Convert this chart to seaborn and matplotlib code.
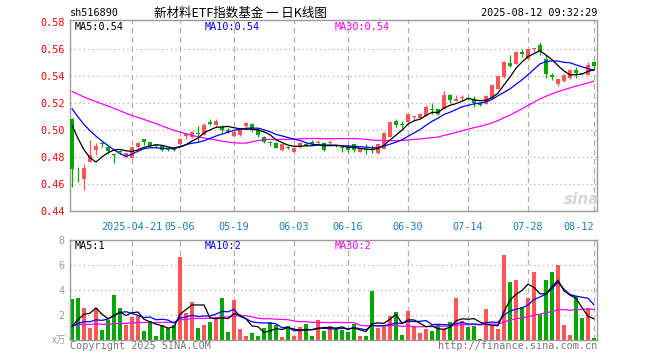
import numpy as np
import pandas as pd
import matplotlib
matplotlib.use("Agg")
import matplotlib.pyplot as plt
import seaborn as sns

# ---------------- data ----------------
dates = ["04-07", "04-08", "04-09", "04-10", "04-11", "04-14", "04-15", "04-16", "04-17", "04-18",
         "04-21", "04-22", "04-23", "04-24", "04-25", "04-28", "04-29", "04-30",
         "05-06", "05-07", "05-08", "05-09", "05-12", "05-13", "05-14", "05-15", "05-16",
         "05-19", "05-20", "05-21", "05-22", "05-23", "05-26", "05-27", "05-28", "05-29", "05-30",
         "06-03", "06-04", "06-05", "06-06", "06-09", "06-10", "06-11", "06-12", "06-13",
         "06-16", "06-17", "06-18", "06-19", "06-20", "06-23", "06-24", "06-25", "06-26", "06-27",
         "06-30", "07-01", "07-02", "07-03", "07-04", "07-07", "07-08", "07-09", "07-10", "07-11",
         "07-14", "07-15", "07-16", "07-17", "07-18", "07-21", "07-22", "07-23", "07-24", "07-25",
         "07-28", "07-29", "07-30", "07-31", "08-01", "08-04", "08-05", "08-06", "08-07", "08-08",
         "08-11", "08-12"]

opens = [0.5085, 0.4700, 0.4635, 0.4767, 0.4853, 0.4907, 0.4872, 0.4821, 0.4842, 0.4804,
         0.4796, 0.4872, 0.4934, 0.4909, 0.4890, 0.4882, 0.4855, 0.4867, 0.4894, 0.4953,
         0.4948, 0.4980, 0.4963, 0.5061, 0.5036, 0.5024, 0.5000, 0.4958, 0.4963, 0.5032,
         0.5044, 0.5000, 0.4946, 0.4914, 0.4902, 0.4853, 0.4875, 0.4840, 0.4872, 0.4894,
         0.4914, 0.4905, 0.4902, 0.4905, 0.4885, 0.4873, 0.4877, 0.4894, 0.4840, 0.4858,
         0.4855, 0.4828, 0.4860, 0.4951, 0.5066, 0.5037, 0.5061, 0.5095, 0.5090, 0.5105,
         0.5153, 0.5152, 0.5154, 0.5257, 0.5218, 0.5236, 0.5228, 0.5223, 0.5203, 0.5196,
         0.5235, 0.5306, 0.5389, 0.5497, 0.5490, 0.5580, 0.5527, 0.5600, 0.5629, 0.5527,
         0.5409, 0.5343, 0.5360, 0.5384, 0.5446, 0.5417, 0.5409, 0.5502]
highs = [0.5090, 0.4730, 0.4750, 0.4926, 0.4907, 0.4919, 0.4875, 0.4823, 0.4850, 0.4831,
         0.4877, 0.4914, 0.4934, 0.4914, 0.4899, 0.4882, 0.4870, 0.4870, 0.4943, 0.4987,
         0.4995, 0.5032, 0.5049, 0.5085, 0.5085, 0.5041, 0.5012, 0.4997, 0.5017, 0.5061,
         0.5051, 0.5012, 0.4956, 0.4919, 0.4914, 0.4897, 0.4885, 0.4877, 0.4909, 0.4902,
         0.4926, 0.4924, 0.4914, 0.4924, 0.4890, 0.4882, 0.4890, 0.4894, 0.4870, 0.4894,
         0.4887, 0.4894, 0.4988, 0.5061, 0.5085, 0.5066, 0.5117, 0.5107, 0.5127, 0.5184,
         0.5200, 0.5154, 0.5286, 0.5267, 0.5257, 0.5257, 0.5237, 0.5250, 0.5203, 0.5257,
         0.5343, 0.5404, 0.5507, 0.5551, 0.5585, 0.5600, 0.5600, 0.5607, 0.5654, 0.5551,
         0.5424, 0.5380, 0.5414, 0.5448, 0.5465, 0.5424, 0.5502, 0.5509]
lows = [0.4576, 0.4620, 0.4554, 0.4767, 0.4816, 0.4878, 0.4821, 0.4760, 0.4820, 0.4797,
        0.4790, 0.4870, 0.4890, 0.4880, 0.4870, 0.4848, 0.4846, 0.4846, 0.4889, 0.4934,
        0.4940, 0.4909, 0.4963, 0.5036, 0.5024, 0.4988, 0.4975, 0.4948, 0.4958, 0.5024,
        0.4988, 0.4951, 0.4902, 0.4885, 0.4865, 0.4846, 0.4860, 0.4835, 0.4865, 0.4880,
        0.4890, 0.4890, 0.4846, 0.4890, 0.4875, 0.4841, 0.4841, 0.4841, 0.4835, 0.4820,
        0.4831, 0.4821, 0.4860, 0.4951, 0.5024, 0.5012, 0.5056, 0.5066, 0.5085, 0.5102,
        0.5122, 0.5110, 0.5152, 0.5198, 0.5213, 0.5218, 0.5223, 0.5171, 0.5179, 0.5189,
        0.5230, 0.5301, 0.5384, 0.5466, 0.5485, 0.5539, 0.5522, 0.5575, 0.5556, 0.5384,
        0.5367, 0.5326, 0.5355, 0.5380, 0.5384, 0.5416, 0.5404, 0.5453]
closes = [0.4710, 0.4694, 0.4718, 0.4816, 0.4882, 0.4900, 0.4848, 0.4818, 0.4838, 0.4831,
          0.4877, 0.4907, 0.4909, 0.4885, 0.4882, 0.4853, 0.4853, 0.4850, 0.4933, 0.4970,
          0.4987, 0.4968, 0.5036, 0.5044, 0.5066, 0.5000, 0.4988, 0.4988, 0.5007, 0.5049,
          0.5000, 0.4963, 0.4914, 0.4902, 0.4865, 0.4894, 0.4870, 0.4870, 0.4902, 0.4885,
          0.4894, 0.4907, 0.4853, 0.4907, 0.4880, 0.4871, 0.4853, 0.4853, 0.4867, 0.4855,
          0.4852, 0.4894, 0.4975, 0.5056, 0.5036, 0.5035, 0.5117, 0.5098, 0.5117, 0.5171,
          0.5150, 0.5117, 0.5257, 0.5220, 0.5233, 0.5237, 0.5226, 0.5203, 0.5184, 0.5250,
          0.5335, 0.5397, 0.5502, 0.5473, 0.5580, 0.5561, 0.5600, 0.5607, 0.5585, 0.5416,
          0.5392, 0.5380, 0.5409, 0.5441, 0.5424, 0.5415, 0.5478, 0.5470]
volumes = [3.32, 3.40, 2.59, 0.97, 2.59, 0.81, 1.62, 3.64, 2.59, 1.21,
           1.86, 1.94, 0.73, 1.54, 0.32, 1.21, 0.97, 1.21, 6.63, 2.18,
           3.07, 0.97, 1.21, 1.46, 1.86, 3.40, 0.65, 3.23, 0.89, 0.32,
           0.57, 0.32, 0.97, 1.46, 1.21, 0.24, 1.13, 0.32, 1.05, 1.29,
           0.32, 1.62, 0.73, 1.10, 1.00, 0.81, 0.65, 1.29, 0.32, 0.32,
           3.96, 0.97, 1.13, 1.94, 2.26, 0.40, 2.34, 1.13, 0.57, 0.89,
           0.73, 1.21, 0.89, 1.46, 3.40, 1.54, 1.05, 1.13, 0.08, 2.51,
           1.13, 0.89, 6.79, 4.69, 4.85, 2.67, 3.40, 5.50, 2.10, 4.85,
           5.50, 6.06, 1.21, 0.40, 3.56, 1.78, 2.59, 0.16]

# closes / volumes of the sessions before the window (estimated from the MA lines' start)
prior_closes = [0.532, 0.534, 0.537, 0.536, 0.538, 0.535, 0.533, 0.536, 0.539, 0.537,
                0.535, 0.534, 0.536, 0.533, 0.535, 0.537, 0.534, 0.532, 0.535, 0.532,
                0.530, 0.528, 0.527, 0.529, 0.526, 0.518, 0.514, 0.511, 0.504]
prior_volumes = [1.9, 2.0, 1.9, 1.95, 0.9, 0.8, 1.0, 0.9, 0.85, 0.95,
                 0.9, 0.8, 1.0, 0.9, 0.95, 0.85, 1.0, 1.1, 1.0, 1.05,
                 1.25, 0.6, 0.5, 0.5, 0.48]

tick_dates = ["2025-04-21", "05-06", "05-19", "06-03", "06-16", "06-30", "07-14", "07-28", "08-12"]
tick_keys = ["04-21", "05-06", "05-19", "06-03", "06-16", "06-30", "07-14", "07-28", "08-12"]
price_ticks = [0.44, 0.46, 0.48, 0.50, 0.52, 0.54, 0.56, 0.58]
vol_ticks = [2, 4, 6, 8]

# ---------------- style ----------------
sns.set_style("white")
plt.rcParams['font.family'] = ['DejaVu Sans Mono', 'Noto Sans CJK SC']
RED = "#ff5555"
GREEN = "#00a800"
GRID = "#b0b0b0"
FRAME = "#9a9a9a"

df = pd.DataFrame({"date": dates, "open": opens, "high": highs, "low": lows,
                   "close": closes, "vol": volumes})
df["x"] = np.arange(len(df))
n = len(df)
allc = pd.Series(prior_closes + closes)
allv = pd.Series(prior_volumes + volumes)
for w in (5, 10, 30):
    df[f"ma{w}"] = allc.rolling(w).mean().iloc[-n:].values
    df[f"vma{w}"] = allv.rolling(w, min_periods=1).mean().iloc[-n:].values
up = df["close"] >= df["open"]
cols = np.where(up, RED, GREEN)

W, H = 660, 360
fig = plt.figure(figsize=(W / 100, H / 100), dpi=100)


def rect(l, t, r, b):
    return [l / W, 1 - b / H, (r - l) / W, (b - t) / H]


ax = fig.add_axes(rect(70, 20, 597, 211.3))
axv = fig.add_axes(rect(70, 240, 597, 340))

tick_idx = [dates.index(k) for k in tick_keys]

for a in (ax, axv):
    a.set_xlim(-0.33, 87.5)
    for s in a.spines.values():
        s.set_color(FRAME)
        s.set_linewidth(1.0)
    for t in tick_idx:
        a.axvline(t, color=GRID, lw=0.9, ls=(0, (4.5, 3)), zorder=0)

# ---- price panel ----
ax.set_ylim(0.44, 0.5813)
for p in price_ticks[1:-1]:
    ax.axhline(p, color=GRID, lw=0.9, ls=(0, (1, 2.5)), zorder=0)
ax.vlines(df["x"], df["low"], df["high"], colors=cols, lw=0.9, zorder=2)
body_h = np.maximum((df["close"] - df["open"]).abs(), 0.0007)
body_b = np.minimum(df["close"], df["open"])
ax.bar(df["x"], body_h, bottom=body_b, width=0.78, color=cols, lw=0, zorder=3)
sns.lineplot(data=df, x="x", y="ma30", ax=ax, color="#ff00ff", lw=0.9, zorder=4)
sns.lineplot(data=df, x="x", y="ma10", ax=ax, color="#0000ff", lw=0.9, zorder=5)
sns.lineplot(data=df, x="x", y="ma5", ax=ax, color="black", lw=0.9, zorder=6)
ax.set_yticks(price_ticks)
ax.set_yticklabels([f"{p:.2f}" for p in price_ticks], color="red", fontsize=7.3)
ax.set_xticks(tick_idx)
ax.set_xticklabels(tick_dates, color="#1a7ccc", fontsize=7.3)
xt = ax.get_xticklabels()
xt[-1].set_horizontalalignment("right")
ax.tick_params(axis="both", length=0)
ax.tick_params(axis="y", pad=4)
ax.tick_params(axis="x", pad=8)
ax.set_xlabel("")
ax.set_ylabel("")
ax.set_xlim(-0.33, 87.5)

# ---- volume panel ----
axv.set_ylim(0, 8.03)
for v in vol_ticks[:-1]:
    axv.axhline(v, color=GRID, lw=0.9, ls=(0, (1, 2.5)), zorder=0)
axv.bar(df["x"], df["vol"], width=0.78, color=cols, lw=0, zorder=2)
sns.lineplot(data=df, x="x", y="vma30", ax=axv, color="#ff00ff", lw=0.9, zorder=4)
sns.lineplot(data=df, x="x", y="vma10", ax=axv, color="#0000ff", lw=0.9, zorder=5)
sns.lineplot(data=df, x="x", y="vma5", ax=axv, color="black", lw=0.9, zorder=6)
axv.set_yticks(vol_ticks)
axv.set_yticklabels([str(v) for v in vol_ticks], color="#9a9a9a", fontsize=7.3)
axv.set_xticks([])
axv.tick_params(axis="both", length=0)
axv.tick_params(axis="y", pad=4)
axv.set_xlabel("")
axv.set_ylabel("")
axv.set_xlim(-0.33, 87.5)


def ftext(x, y, s, **kw):
    fig.text(x / W, 1 - y / H, s, **kw)


mono = dict(fontsize=7.3)
ftext(70, 13, "sh516890", ha="left", va="center", color="black", **mono)
ftext(240, 13, "新材料ETF指数基金 一 日K线图", ha="center", va="center", color="black",
      fontsize=9, family=["Noto Sans CJK SC", "DejaVu Sans"])
ftext(597, 13, "2025-08-12 09:32:29", ha="right", va="center", color="black", **mono)

ftext(75, 26.5, "MA5:0.54", ha="left", va="center", color="black", **mono)
ftext(205, 26.5, "MA10:0.54", ha="left", va="center", color="#0000ff", **mono)
ftext(335, 26.5, "MA30:0.54", ha="left", va="center", color="#ff00ff", **mono)

ftext(75, 246, "MA5:1", ha="left", va="center", color="black", **mono)
ftext(205, 246, "MA10:2", ha="left", va="center", color="#0000ff", **mono)
ftext(335, 246, "MA30:2", ha="left", va="center", color="#ff00ff", **mono)

ftext(66, 340, "x万", ha="right", va="center", color="#a0a0a0", fontsize=7,
      family=["Noto Sans CJK SC", "DejaVu Sans"])
ftext(70, 346, "Copyright 2025 SINA.COM", ha="left", va="center", color="#777777", **mono)
ftext(597, 346, "http://finance.sina.com.cn", ha="right", va="center", color="#777777", **mono)

ftext(582, 199, "sina", ha="center", va="center", color="#d6d6d6", fontsize=11,
      style="italic", weight="bold", family=["DejaVu Sans"])

fig.savefig("out.png", dpi=100)
